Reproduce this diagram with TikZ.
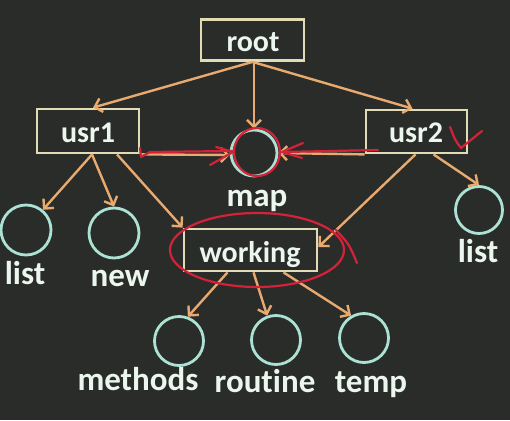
\documentclass[tikz,border=0pt]{standalone}
\usepackage{fontspec}
\setmainfont[Ligatures=NoCommon]{Carlito}
\usetikzlibrary{arrows.meta}
\definecolor{bg}{RGB}{42,44,42}
\definecolor{boxline}{RGB}{226,220,182}
\definecolor{circ}{RGB}{172,226,212}
\definecolor{org}{RGB}{232,170,110}
\definecolor{redc}{RGB}{212,34,56}
\definecolor{txt}{RGB}{234,246,238}
\begin{document}
\begin{tikzpicture}[x=1pt,y=-1pt,
  box/.style={draw=boxline, line width=2.8pt, fill=bg, rectangle, inner sep=0pt},
  dirc/.style={circle, draw=circ, line width=2.8pt, inner sep=0pt},
  lbl/.style={text=txt, font=\fontsize{33}{33}\selectfont\bfseries, anchor=base, inner sep=0pt},
  btxt/.style={text=txt, font=\fontsize{30}{30}\selectfont\bfseries, anchor=base, inner sep=0pt},
  arr/.style={draw=org, line width=2.4pt, -{Straight Barb[length=7pt,width=14pt]}},
  redl/.style={draw=redc, line width=2.2pt, line cap=round, line join=round}]
\fill[bg] (0,0) rectangle (510,420);
\useasboundingbox (0,0) rectangle (510,420);

% boxes
\node[box, minimum width=103pt, minimum height=41pt] (root) at (252.5,40) {};
\node[box, minimum width=102pt, minimum height=44pt] (usr1) at (88,131) {};
\node[box, minimum width=101pt, minimum height=43pt] (usr2) at (416.5,131.5) {};
\node[box, minimum width=133pt, minimum height=42pt] (working) at (250.5,250) {};
\node[btxt] (roott) at (253,52) {root};
\node[btxt] (usr1t) at (88,142) {usr1};
\node[btxt] (usr2t) at (416,142) {usr2};
\node[btxt] (workingt) at (250,262) {working};

% circles
\node[dirc, minimum size=46pt] (map) at (254,153) {};
\node[dirc, minimum size=50pt] (listA) at (26,230) {};
\node[dirc, minimum size=50pt] (new) at (114,233) {};
\node[dirc, minimum size=47pt] (listB) at (479,210) {};
\node[dirc, minimum size=49pt] (methods) at (179,341) {};
\node[dirc, minimum size=49pt] (routine) at (276,340) {};
\node[dirc, minimum size=49pt] (temp) at (364,338) {};

% labels
\node[lbl] (mapt) at (257,206) {map};
\node[lbl] (listAt) at (25,284) {list};
\node[lbl] (newt) at (120,286) {new};
\node[lbl] (listBt) at (478,262) {list};
\node[lbl] (methodst) at (138,390) {methods};
\node[lbl] (routinet) at (265,392) {routine};
\node[lbl] (tempt) at (371,392) {temp};

% orange arrows
\draw[arr] (root.south) -- ([xshift=5pt]usr1.north);
\draw[arr] (root.south) -- ([xshift=-4pt]usr2.north);
\draw[arr] (root.south -| map.north) -- (map.north);
\draw[arr] (usr1.south east) -- ([yshift=-2pt]map.west);
\draw[arr] (usr2.south west) -- (map.east);
\draw[arr] ([xshift=4pt]usr1.south) -- (listA.50);
\draw[arr] ([xshift=4pt]usr1.south) -- (new.north);
\draw[arr] ([xshift=29pt]usr1.south) -- (working.north west);
\draw[arr] ([xshift=-1pt]usr2.south) -- ([yshift=3pt]working.east);
\draw[arr] ([xshift=17pt]usr2.south) -- (listB.north);
\draw[arr] ([xshift=-23pt]working.south) -- (methods.70);
\draw[arr] ([xshift=3pt]working.south) -- (routine.110);
\draw[arr] ([xshift=33pt]working.south) -- (temp.120);

% red annotations
\draw[redl] (257,152) ellipse [x radius=23, y radius=24];
\draw[redl] (257,250) ellipse [x radius=87, y radius=37];
\draw[redl] (336,230) .. controls (349,244) .. (357,263);
\draw[redl] (140,148) -- (141,157) -- (150,152) -- (233,151);
\draw[redl] (216,147) -- (233,152) -- (210,165);
\draw[redl] (378,150) -- (283,152);
\draw[redl] (303,143) -- (282,152) -- (302,158);
\draw[redl] (450,127) .. controls (455,140) .. (461,148) -- (482,131);
\end{tikzpicture}
\end{document}
